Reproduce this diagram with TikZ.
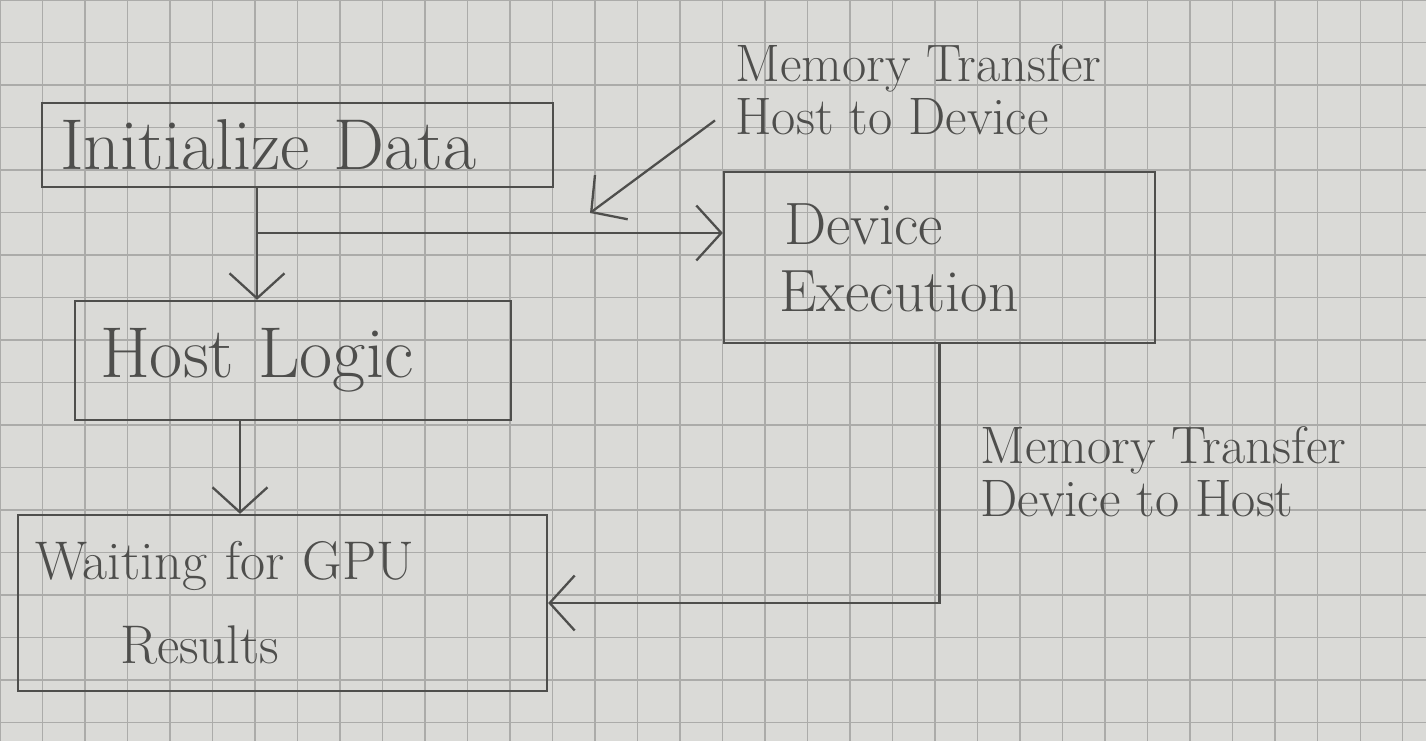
\documentclass[tikz,border=0pt]{standalone}
\usepackage{fontspec}
\usepackage{tikz}
\usetikzlibrary{arrows.meta, positioning, calc}
\definecolor{paper}{HTML}{DADAD7}
\definecolor{gridgray}{HTML}{ABABA9}
\definecolor{pencil}{HTML}{4E4E4C}

\begin{document}
\begin{tikzpicture}[
    pen/.style={draw=pencil, line width=1.3pt},
    arr/.style={pen, -{Straight Barb[length=5mm, width=11mm, line width=1.3pt]}},
    box/.style={pen, rectangle, align=left, inner ysep=0pt, text=pencil},
    note/.style={align=left, inner sep=1mm, text=pencil, font=\fontsize{30}{30}\selectfont}
  ]
    % Paper and grid
    \fill[paper] (0,0) rectangle (28.52,-14.82);
    \useasboundingbox (0,0) rectangle (28.52,-14.82);
    \draw[gridgray, line width=0.6pt, step=0.85] (0,-14.82) grid (28.52,0);

    % Boxes
    \node[box, minimum width=10.22cm, minimum height=1.68cm, inner xsep=0.36cm,
          text width=9.5cm, font=\fontsize{41}{41}\selectfont]
          (init) at (5.95,-2.90) {Initialize Data};
    \node[box, minimum width=8.72cm, minimum height=2.38cm, inner xsep=0.5cm,
          text width=7.72cm, font=\fontsize{41}{41}\selectfont]
          (host) at (5.86,-7.21) {Host Logic};
    \node[box, minimum width=10.58cm, minimum height=3.52cm, inner xsep=0.34cm,
          text width=9.9cm, font=\fontsize{31}{48}\selectfont]
          (wait) at (5.65,-12.06) {Waiting for GPU\\\hspace*{1.7cm}Results};
    \node[box, minimum width=8.62cm, minimum height=3.42cm, inner xsep=1.1cm,
          text width=6.42cm, font=\fontsize{34}{38}\selectfont]
          (dev) at (18.79,-5.15) {\hspace*{0.1cm}Device\\Execution};

    % Notes
    \node[note, anchor=west] (mtin) at (14.6,-1.8) {Memory Transfer\\Host to Device};
    \node[note, anchor=west] (mtout) at (19.5,-9.44) {Memory Transfer\\Device to Host};

    % Connectors
    \coordinate (split) at (5.14,-4.66);
    \coordinate (mtinend) at (11.8,-4.26);
    \draw[pen] (init.south -| split) -- (split);
    \draw[arr] (split) -- (host.north -| split);
    \draw[arr] (split) -- (split -| dev.west);
    \draw[arr] ([xshift=-1.06cm]host.south) -- ([xshift=-1.06cm]host.south |- wait.north);
    \draw[arr] (dev.south) |- (wait.east);
    \draw[arr] ([shift={(-0.3,0.4)}]mtin.south west) -- (mtinend);
\end{tikzpicture}
\end{document}
